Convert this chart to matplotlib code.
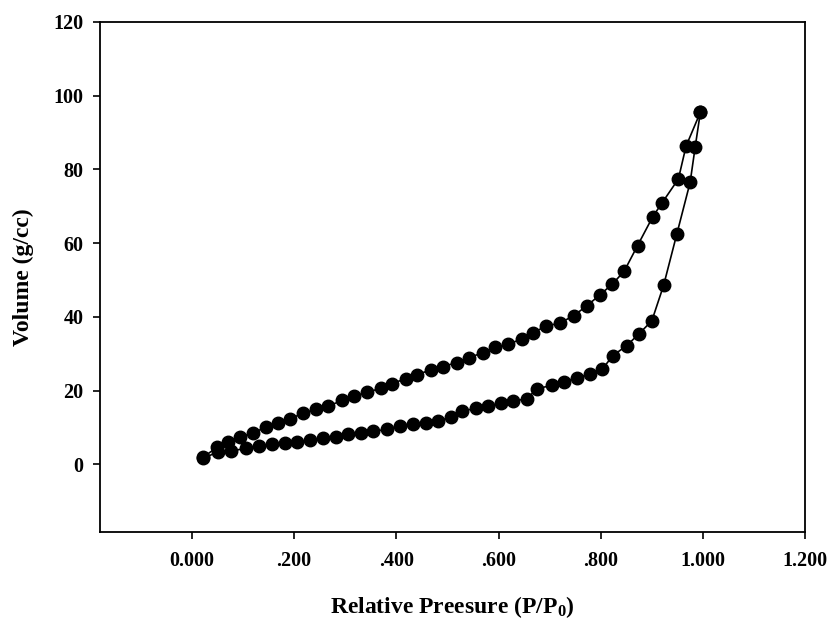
import matplotlib
matplotlib.use("Agg")
from matplotlib import pyplot as plt

# Nitrogen isotherm: adsorption (lower) and desorption (upper) branches
ads_p = [0.022, 0.050, 0.077, 0.105, 0.131, 0.157, 0.182, 0.206, 0.231, 0.257,
         0.282, 0.306, 0.331, 0.355, 0.382, 0.408, 0.432, 0.458, 0.482, 0.506,
         0.528, 0.556, 0.580, 0.605, 0.629, 0.655, 0.676, 0.704, 0.728, 0.754,
         0.779, 0.803, 0.824, 0.851, 0.875, 0.900, 0.923, 0.949, 0.975, 0.985,
         0.995]
ads_v = [1.6, 3.3, 3.6, 4.3, 4.9, 5.4, 5.7, 6.0, 6.5, 7.0,
         7.5, 8.1, 8.6, 8.9, 9.5, 10.5, 11.0, 11.3, 11.8, 12.7,
         14.4, 15.2, 15.9, 16.5, 17.1, 17.8, 20.5, 21.4, 22.4, 23.5,
         24.5, 25.8, 29.5, 32.2, 35.4, 38.9, 48.5, 62.5, 76.5, 86.2,
         95.5]

des_p = [0.995, 0.967, 0.952, 0.920, 0.902, 0.872, 0.846, 0.823, 0.798, 0.773,
         0.747, 0.720, 0.693, 0.668, 0.645, 0.619, 0.593, 0.569, 0.543, 0.518,
         0.492, 0.467, 0.441, 0.418, 0.392, 0.369, 0.343, 0.317, 0.294, 0.267,
         0.243, 0.218, 0.192, 0.169, 0.145, 0.120, 0.094, 0.071, 0.049, 0.022]
des_v = [95.5, 86.3, 77.4, 70.9, 67.2, 59.3, 52.4, 48.9, 45.9, 43.0,
         40.3, 38.3, 37.5, 35.7, 34.0, 32.5, 31.7, 30.3, 28.9, 27.6,
         26.5, 25.6, 24.3, 23.2, 21.9, 20.6, 19.5, 18.5, 17.3, 15.8,
         15.0, 13.8, 12.4, 11.1, 10.0, 8.6, 7.3, 5.9, 4.6, 1.9]

x_ticks = [0.0, 0.2, 0.4, 0.6, 0.8, 1.0, 1.2]
x_tick_labels = ["0.000", ".200", ".400", ".600", ".800", "1.000", "1.200"]
y_ticks = [0, 20, 40, 60, 80, 100, 120]

plt.rcParams["font.family"] = "Liberation Serif"
plt.rcParams["font.weight"] = "bold"
plt.rcParams["mathtext.fontset"] = "custom"
plt.rcParams["mathtext.rm"] = "Liberation Serif:bold"
plt.rcParams["mathtext.it"] = "Liberation Serif:bold"
plt.rcParams["mathtext.bf"] = "Liberation Serif:bold"

fig = plt.figure(figsize=(8.3, 6.19), dpi=100)
ax = fig.add_axes([0.1205, 0.1405, 0.8495, 0.824])

for p, v in [(ads_p, ads_v), (des_p, des_v)]:
    ax.plot(p, v, color="black", linewidth=1.2, marker="o",
            markersize=9, markerfacecolor="black", markeredgecolor="black")

ax.set_xlim(-0.18, 1.2)
ax.set_ylim(-18.4, 120)
ax.set_xticks(x_ticks)
ax.set_xticklabels(x_tick_labels)
ax.set_yticks(y_ticks)

ax.tick_params(axis="both", direction="out", length=5, width=1.2,
               labelsize=14.5, top=False, right=False)
ax.tick_params(axis="x", pad=9)
ax.tick_params(axis="y", pad=7)
for s in ax.spines.values():
    s.set_linewidth(1.3)

ax.set_xlabel("Relative Preesure (P/P$_0$)", fontsize=17, fontweight="bold",
              labelpad=16)
ax.set_ylabel("Volume (g/cc)", fontsize=17, fontweight="bold", labelpad=14)

fig.savefig("out.png", dpi=100)
